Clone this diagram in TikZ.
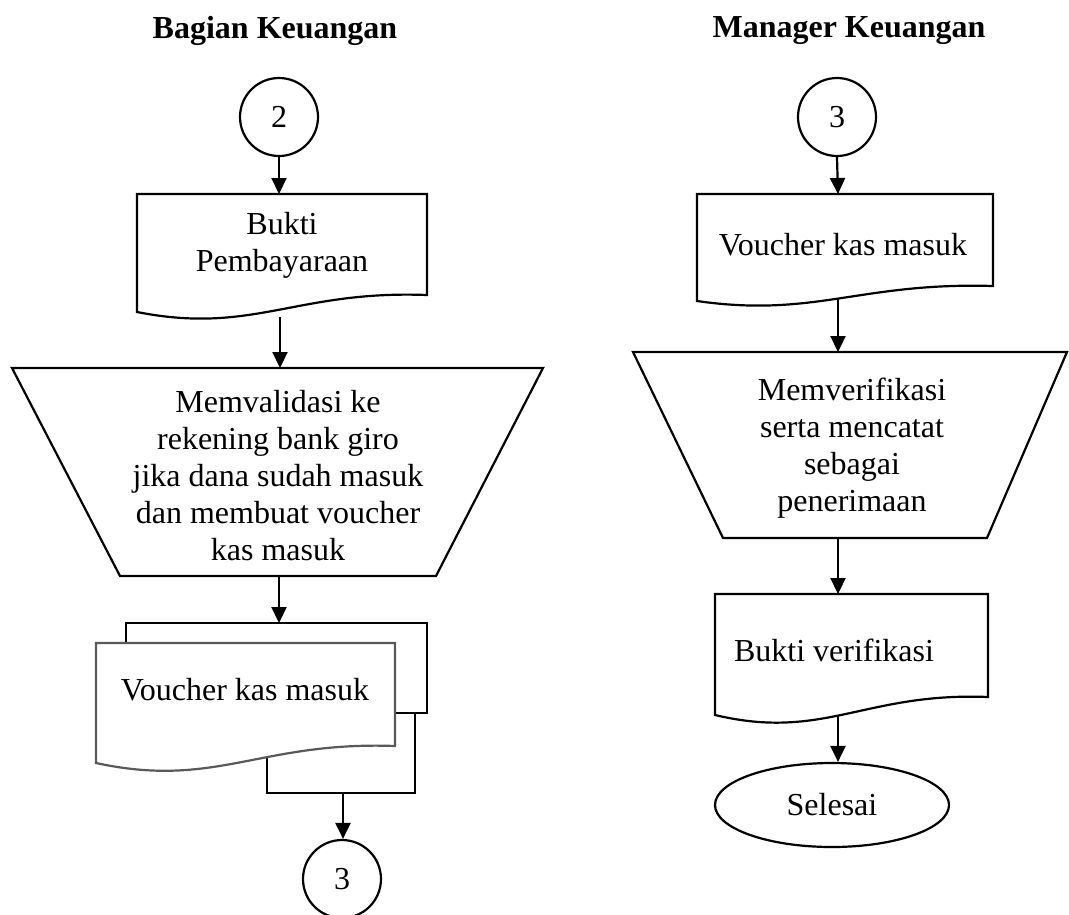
\documentclass[tikz,border=0pt]{standalone}
\usepackage{fontspec}
\setmainfont{Liberation Serif}
\usetikzlibrary{arrows.meta,shapes.geometric}

\tikzset{
  outline/.style={draw=black, line width=2.2pt, fill=white, line join=miter},
  softoutline/.style={draw=black!65, line width=2.2pt, fill=white},
  flow/.style={draw, line width=2.2pt, -{Triangle[width=15pt,length=16pt]}},
  label/.style={font=\fontsize{32}{37}\selectfont, align=center, inner sep=0pt},
  heading/.style={font=\fontsize{32}{37}\selectfont\bfseries, inner sep=0pt},
  connector/.style={circle, draw, line width=2.2pt, minimum size=78pt, inner sep=0pt,
    font=\fontsize{32}{37}\selectfont},
  terminal/.style={ellipse, draw, line width=2.2pt, minimum width=234pt, minimum height=84pt,
    inner sep=0pt, font=\fontsize{32}{37}\selectfont}
}

\begin{document}
\begin{tikzpicture}[x=1pt,y=-1pt]
\useasboundingbox (0,0) rectangle (1069,914);
\fill[white] (0,0) rectangle (1069,914);

% ---------- column headings ----------
\node[heading] (hleft) at (275,31) {Bagian Keuangan};
\node[heading] (hright) at (849,31) {Manager Keuangan};

% ================= Bagian Keuangan =================
\node[connector] (c2) at (279,117) {2};

% document: Bukti Pembayaraan
\draw[outline] (137,194) -- (427,194) -- (427,295)
  .. controls (296,290) and (253,335) .. (137,312) -- cycle;
\node[label] (bukti) at (282,245) {Bukti\\Pembayaraan};
\coordinate (buktiTop) at (279,194);
\coordinate (buktiBot) at (280,317);

% manual operation: validation
\draw[outline] (12,368) -- (543,368) -- (436,576) -- (120,576) -- cycle;
\node[label] (validasi) at (278,476)
  {Memvalidasi ke\\rekening bank giro\\jika dana sudah masuk\\dan membuat voucher\\kas masuk};
\coordinate (validasiTop) at (280,368);
\coordinate (validasiBot) at (279,576);

% multiple documents: voucher copies
\draw[outline] (267,700) rectangle (415,793);
\draw[outline] (126,623) rectangle (427,713);
\draw[softoutline] (96,643) -- (395,643) -- (395,746)
  .. controls (260,741) and (216,789) .. (96,763) -- cycle;
\node[label] (voucherA) at (245,690) {Voucher kas masuk};
\coordinate (voucherTop) at (279,623);
\coordinate (voucherBot) at (343,793);

\node[connector] (c3a) at (342,879) {3};

\draw[flow] (c2.south) -- (buktiTop);
\draw[flow] (buktiBot) -- (validasiTop);
\draw[flow] (validasiBot) -- (voucherTop);
\draw[flow] (voucherBot) -- (voucherBot |- c3a.north);

% ================= Manager Keuangan =================
\node[connector] (c3b) at (837,117) {3};

% document: Voucher kas masuk
\draw[outline] (697,194) -- (993,194) -- (993,286)
  .. controls (860,282) and (815,318) .. (697,301) -- cycle;
\node[label] (voucherB) at (843,245) {Voucher kas masuk};
\coordinate (voucherBTop) at (838,194);
\coordinate (voucherBBot) at (838,299);

% manual operation: verification
\draw[outline] (633,352) -- (1067,352) -- (987,538) -- (723,538) -- cycle;
\node[label] (verif) at (852,448) {Memverifikasi\\serta mencatat\\sebagai\\penerimaan};
\coordinate (verifTop) at (838,352);
\coordinate (verifBot) at (838,538);

% document: Bukti verifikasi
\draw[outline] (715,594) -- (988,594) -- (988,697)
  .. controls (865,692) and (824,741) .. (715,715) -- cycle;
\node[label] (bverif) at (834,650) {Bukti verifikasi};
\coordinate (bverifTop) at (838,594);
\coordinate (bverifBot) at (838,716);

\node[terminal] (selesai) at (832,805) {Selesai};

\draw[flow] (c3b.south) -- (voucherBTop);
\draw[flow] (voucherBBot) -- (verifTop);
\draw[flow] (verifBot) -- (bverifTop);
\draw[flow] (bverifBot) -- (bverifBot |- selesai.north);
\end{tikzpicture}
\end{document}
